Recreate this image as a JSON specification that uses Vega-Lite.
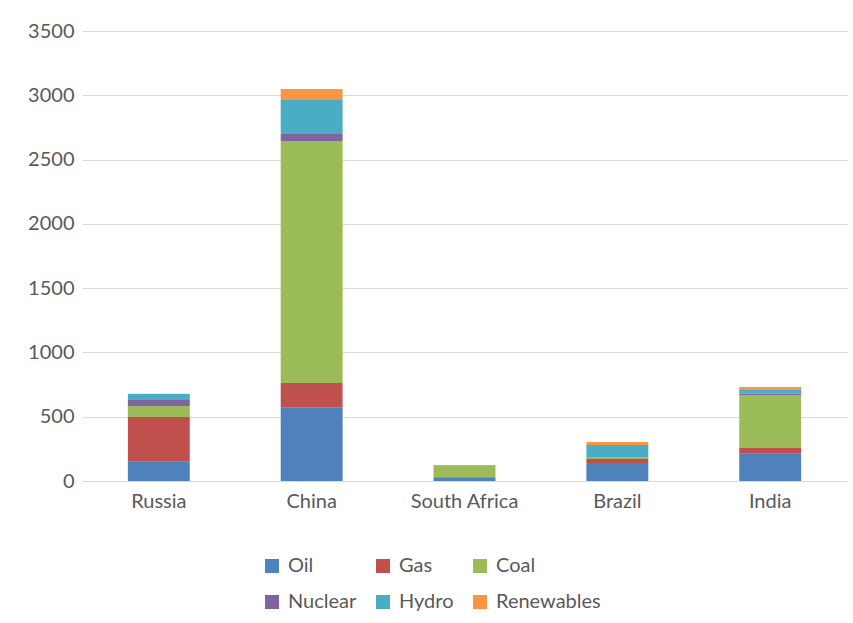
{
  "$schema": "https://vega.github.io/schema/vega-lite/v6.json",
  "autosize": "none",
  "width": 765,
  "height": 450,
  "padding": {"left": 82, "top": 31, "right": 6, "bottom": 142},
  "background": "white",
  "config": {
    "font": "Lato",
    "view": {"stroke": null}
  },
  "data": {
    "values": [
      {"country": "Russia", "source": "Oil", "rank": 1, "value": 150},
      {"country": "Russia", "source": "Gas", "rank": 2, "value": 348},
      {"country": "Russia", "source": "Coal", "rank": 3, "value": 85},
      {"country": "Russia", "source": "Nuclear", "rank": 4, "value": 47},
      {"country": "Russia", "source": "Hydro", "rank": 5, "value": 47},
      {"country": "Russia", "source": "Renewables", "rank": 6, "value": 1},
      {"country": "China", "source": "Oil", "rank": 1, "value": 573},
      {"country": "China", "source": "Gas", "rank": 2, "value": 189},
      {"country": "China", "source": "Coal", "rank": 3, "value": 1883},
      {"country": "China", "source": "Nuclear", "rank": 4, "value": 54},
      {"country": "China", "source": "Hydro", "rank": 5, "value": 264},
      {"country": "China", "source": "Renewables", "rank": 6, "value": 86},
      {"country": "South Africa", "source": "Oil", "rank": 1, "value": 28},
      {"country": "South Africa", "source": "Gas", "rank": 2, "value": 3},
      {"country": "South Africa", "source": "Coal", "rank": 3, "value": 89},
      {"country": "South Africa", "source": "Nuclear", "rank": 4, "value": 3},
      {"country": "South Africa", "source": "Hydro", "rank": 5, "value": 1},
      {"country": "South Africa", "source": "Renewables", "rank": 6, "value": 1},
      {"country": "Brazil", "source": "Oil", "rank": 1, "value": 140},
      {"country": "Brazil", "source": "Gas", "rank": 2, "value": 31},
      {"country": "Brazil", "source": "Coal", "rank": 3, "value": 14},
      {"country": "Brazil", "source": "Nuclear", "rank": 4, "value": 2},
      {"country": "Brazil", "source": "Hydro", "rank": 5, "value": 93},
      {"country": "Brazil", "source": "Renewables", "rank": 6, "value": 23},
      {"country": "India", "source": "Oil", "rank": 1, "value": 212},
      {"country": "India", "source": "Gas", "rank": 2, "value": 45},
      {"country": "India", "source": "Coal", "rank": 3, "value": 410},
      {"country": "India", "source": "Nuclear", "rank": 4, "value": 13},
      {"country": "India", "source": "Hydro", "rank": 5, "value": 28},
      {"country": "India", "source": "Renewables", "rank": 6, "value": 23}
    ]
  },
  "mark": {"type": "bar"},
  "encoding": {
    "x": {
      "field": "country",
      "type": "nominal",
      "sort": ["Russia", "China", "South Africa", "Brazil", "India"],
      "scale": {"paddingInner": 0.595, "paddingOuter": 0.3},
      "axis": {
        "title": null,
        "labelAngle": 0,
        "labelFontSize": 20,
        "labelColor": "#595959",
        "labelPadding": 10,
        "ticks": false,
        "domainColor": "#d9d9d9",
        "domainWidth": 1
      }
    },
    "y": {
      "field": "value",
      "type": "quantitative",
      "stack": "zero",
      "scale": {"domain": [0, 3500]},
      "axis": {
        "title": null,
        "format": "d",
        "values": [0, 500, 1000, 1500, 2000, 2500, 3000, 3500],
        "labelFontSize": 20,
        "labelColor": "#595959",
        "labelPadding": 8,
        "ticks": false,
        "domain": false,
        "gridColor": "#d9d9d9",
        "gridWidth": 1
      }
    },
    "order": {"field": "rank", "type": "quantitative", "sort": "ascending"},
    "color": {
      "field": "source",
      "type": "nominal",
      "sort": ["Oil", "Gas", "Coal", "Nuclear", "Hydro", "Renewables"],
      "scale": {
        "domain": ["Oil", "Gas", "Coal", "Nuclear", "Hydro", "Renewables"],
        "range": ["#4f81bd", "#c0504d", "#9bbb59", "#8064a2", "#4bacc6", "#f79646"]
      },
      "legend": {
        "title": null,
        "orient": "none",
        "legendX": 180,
        "legendY": 525,
        "direction": "horizontal",
        "columns": 3,
        "symbolType": "square",
        "symbolSize": 196,
        "symbolStrokeWidth": 0,
        "labelFontSize": 20,
        "labelColor": "#595959",
        "labelOffset": 6,
        "columnPadding": 16,
        "rowPadding": 16
      }
    }
  }
}
